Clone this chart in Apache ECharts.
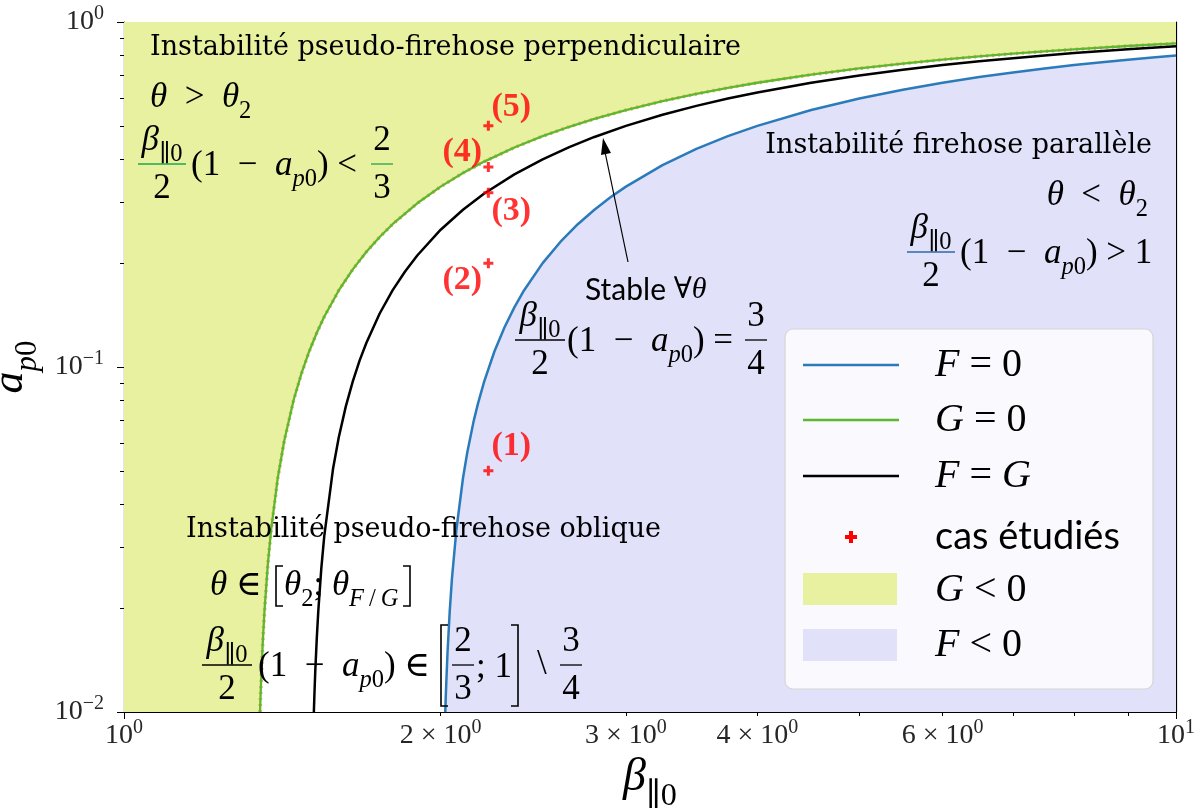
<!DOCTYPE html>
<html>
<head>
<meta charset="utf-8">
<script src="https://cdn.jsdelivr.net/npm/echarts@6/dist/echarts.min.js"></script>
<style>
html, body { margin: 0; padding: 0; background: #fff; }
#main { width: 1203px; height: 812px; }
</style>
</head>
<body>
<div id="main"></div>
<script>
// axes ranges and ticks
var xMin = 1, xMax = 10, yMin = 0.01, yMax = 1;
var xLabelValues = [1, 2, 3, 4, 6, 10];
var xMajorTicks = [1, 10];
var xMinorTicks = [2, 3, 4, 5, 6, 7, 8, 9];
var yMajorTicks = [0.01, 0.1, 1];
var yMinorTicks = [0.02, 0.03, 0.04, 0.05, 0.06, 0.07, 0.08, 0.09, 0.2, 0.3, 0.4, 0.5, 0.6, 0.7, 0.8, 0.9];

// F = 0 curve
var betaF = [2.0202, 2.022, 2.025, 2.03, 2.04, 2.05, 2.07, 2.1, 2.12, 2.15, 2.17, 2.2, 2.25, 2.3, 2.35, 2.4, 2.5, 2.6, 2.7, 2.8, 2.9, 3.0, 3.25, 3.5, 3.75, 4.0, 4.5, 5.0, 5.5, 6.0, 6.5, 7.0, 7.5, 8.0, 8.5, 9.0, 9.5, 10.0];
var aF = [0.0100, 0.0109, 0.0123, 0.0148, 0.0196, 0.0244, 0.0338, 0.0476, 0.0566, 0.0698, 0.0783, 0.0909, 0.1111, 0.1304, 0.1489, 0.1667, 0.2000, 0.2308, 0.2593, 0.2857, 0.3103, 0.3333, 0.3846, 0.4286, 0.4667, 0.5000, 0.5556, 0.6000, 0.6364, 0.6667, 0.6923, 0.7143, 0.7333, 0.7500, 0.7647, 0.7778, 0.7895, 0.8000];

// G = 0 curve
var betaG = [1.3468, 1.348, 1.35, 1.355, 1.36, 1.37, 1.38, 1.4, 1.42, 1.45, 1.475, 1.5, 1.525, 1.55, 1.6, 1.65, 1.7, 1.75, 1.8, 1.9, 2.0, 2.1, 2.2, 2.35, 2.5, 2.65, 2.8, 3.0, 3.25, 3.5, 3.75, 4.0, 4.5, 5.0, 5.5, 6.0, 6.5, 7.0, 7.5, 8.0, 9.0, 10.0];
var aG = [0.0100, 0.0109, 0.0123, 0.0160, 0.0196, 0.0268, 0.0338, 0.0476, 0.0610, 0.0805, 0.0960, 0.1111, 0.1257, 0.1398, 0.1667, 0.1919, 0.2157, 0.2381, 0.2593, 0.2982, 0.3333, 0.3651, 0.3939, 0.4326, 0.4667, 0.4969, 0.5238, 0.5556, 0.5897, 0.6190, 0.6444, 0.6667, 0.7037, 0.7333, 0.7576, 0.7778, 0.7949, 0.8095, 0.8222, 0.8333, 0.8519, 0.8667];

// F = G curve
var betaFG = [1.5152, 1.517, 1.52, 1.525, 1.53, 1.54, 1.55, 1.58, 1.6, 1.625, 1.65, 1.675, 1.7, 1.75, 1.8, 1.85, 1.9, 2.0, 2.1, 2.2, 2.35, 2.5, 2.65, 2.8, 3.0, 3.25, 3.5, 3.75, 4.0, 4.5, 5.0, 5.5, 6.0, 6.5, 7.0, 7.5, 8.0, 9.0, 10.0];
var aFG = [0.0100, 0.0112, 0.0132, 0.0164, 0.0196, 0.0260, 0.0323, 0.0506, 0.0625, 0.0769, 0.0909, 0.1045, 0.1176, 0.1429, 0.1667, 0.1892, 0.2105, 0.2500, 0.2857, 0.3182, 0.3617, 0.4000, 0.4340, 0.4643, 0.5000, 0.5385, 0.5714, 0.6000, 0.6250, 0.6667, 0.7000, 0.7273, 0.7500, 0.7692, 0.7857, 0.8000, 0.8125, 0.8333, 0.8500];

// cas etudies
var caseNames = ['(1)', '(2)', '(3)', '(4)', '(5)'];
var caseBeta = [2.22, 2.22, 2.22, 2.22, 2.22];
var caseA = [0.05, 0.2, 0.32, 0.38, 0.5];

var TXT = '"DejaVu Serif", serif';
var SERIF = '"Liberation Serif", "DejaVu Serif", serif';
var SANS = 'Lato, "DejaVu Sans", sans-serif';
var GREEN_TXT = '#1fa64a', BLUE_TXT = '#2f68a6';
var C_F = '#2b7bba', C_G = '#5cb82e', C_FG = '#000000';
var FILL_G = '#e8f1a0', FILL_F = '#e1e1fa';
var PLUS = 'path://M3.5,0H6.5V3.5H10V6.5H6.5V10H3.5V6.5H0V3.5H3.5Z';
var M = 35; // math font size

function zip(xs, ys) {
  return xs.map(function (x, i) { return [x, ys[i]]; });
}

function rich(size, color) {
  var b = { fontFamily: SERIF, color: color };
  return {
    r: Object.assign({ fontSize: size, lineHeight: size * 1.5 }, b),
    i: Object.assign({ fontSize: size, fontStyle: 'italic', lineHeight: size * 1.5 }, b),
    s: Object.assign({ fontSize: size * 0.7, verticalAlign: 'bottom', lineHeight: size * 0.9 }, b),
    si: Object.assign({ fontSize: size * 0.7, fontStyle: 'italic', verticalAlign: 'bottom', lineHeight: size * 0.9 }, b),
    p: Object.assign({ fontSize: size * 0.7, verticalAlign: 'top', lineHeight: size * 0.9 }, b),
    tx: { fontFamily: TXT, fontSize: size, color: color, lineHeight: size * 1.5 },
    ss: { fontFamily: SANS, fontSize: size, color: color, lineHeight: size * 1.5 }
  };
}

function T(x, y, text, size, color, align) {
  return { type: 'text', z: 50, silent: true,
    style: { x: x, y: y, text: text, rich: rich(size, color), align: align || 'left', verticalAlign: 'middle' } };
}
function L(x1, y1, x2, y2, color, w) {
  return { type: 'line', z: 50, silent: true, shape: { x1: x1, y1: y1, x2: x2, y2: y2 },
    style: { stroke: color, lineWidth: w || 1.3 } };
}
function frac(cx, ly, num, den, color, hw) {
  return [
    T(cx, ly - M * 0.66, num, M, color, 'center'),
    L(cx - hw, ly, cx + hw, ly, color, 1.3),
    T(cx, ly + M * 0.72, den, M, color, 'center')
  ];
}
function bracket(x, y1, y2, dir, color) {
  return { type: 'polyline', z: 50, silent: true,
    shape: { points: [[x + dir * 7, y1], [x, y1], [x, y2], [x + dir * 7, y2]] },
    style: { stroke: color, lineWidth: 1.6, fill: null } };
}
function box(x, y, w, h, color) {
  return { type: 'rect', z: 61, silent: true, shape: { x: x, y: y, width: w, height: h }, style: { fill: color } };
}

var BETA = '{i|β}{s|∥0}';
var ONE_MINUS_A = '{r|(1  −  }{i|a}{si|p}{s|0}{r|)}';

var gfx = [];
// green region text
gfx.push(T(150, 48, '{tx|Instabilité pseudo-firehose perpendiculaire}', 27, GREEN_TXT));
gfx.push(T(150, 98, '{i|θ}{r|  >  }{i|θ}{s|2}', M, GREEN_TXT));
gfx = gfx.concat(frac(162, 164, BETA, '{r|2}', GREEN_TXT, 24));
gfx.push(T(191, 166, ONE_MINUS_A + '{r| <}', M, GREEN_TXT));
gfx = gfx.concat(frac(382, 164, '{r|2}', '{r|3}', GREEN_TXT, 11));
// blue region text
gfx.push(T(1152, 146, '{tx|Instabilité firehose parallèle}', 27, BLUE_TXT, 'right'));
gfx.push(T(1148, 196, '{i|θ}{r|  <  }{i|θ}{s|2}', M, BLUE_TXT, 'right'));
gfx = gfx.concat(frac(931, 252, BETA, '{r|2}', BLUE_TXT, 24));
gfx.push(T(960, 254, ONE_MINUS_A + '{r| > 1}', M, BLUE_TXT));
// stable region
gfx.push(T(585, 290, '{ss|Stable }{r|∀}{i|θ}', 30, '#000'));
gfx = gfx.concat(frac(540, 340, BETA, '{r|2}', '#000', 25));
gfx.push(T(567, 342, ONE_MINUS_A + '{r| =}', M, '#000'));
gfx = gfx.concat(frac(756, 340, '{r|3}', '{r|4}', '#000', 11));
gfx.push(L(628, 262, 605, 152, '#000', 1.2));
gfx.push({ type: 'polygon', z: 50, silent: true,
  shape: { points: [[603, 138], [611, 153], [601, 155]] }, style: { fill: '#000' } });
// oblique
gfx.push(T(186, 530, '{tx|Instabilité pseudo-firehose oblique}', 27, '#000'));
gfx.push(T(210, 586, '{i|θ}{r| ∈ }', M, '#000'));
gfx.push(bracket(276, 566, 606, 1, '#000'));
gfx.push(T(284, 586, '{i|θ}{s|2}{r|; }{i|θ}{si|F\u2009}{s|/\u2009}{si|G}', M, '#000'));
gfx.push(bracket(410, 566, 606, -1, '#000'));
gfx = gfx.concat(frac(227, 665, BETA, '{r|2}', '#000', 25));
gfx.push(T(258, 667, ONE_MINUS_A + '{r| ∈}', M, '#000'));
gfx.push(bracket(441, 625, 706, 1, '#000'));
gfx = gfx.concat(frac(463, 665, '{r|2}', '{r|3}', '#000', 11));
gfx.push(T(476, 668, '{r|; 1}', M, '#000'));
gfx.push(bracket(518, 625, 706, -1, '#000'));
gfx.push(T(537, 665, '{r|\\}', M, '#000'));
gfx = gfx.concat(frac(571, 665, '{r|3}', '{r|4}', '#000', 11));

// legend box
gfx.push({ type: 'rect', z: 60, silent: true, shape: { x: 785, y: 329, width: 368, height: 360, r: 8 },
  style: { fill: 'rgba(255,255,255,0.8)', stroke: '#d6d6d6', lineWidth: 1.2 } });
var legLines = [[365, C_F, '{i|F}{r| = 0}'], [420, C_G, '{i|G}{r| = 0}'], [476, C_FG, '{i|F}{r| = }{i|G}']];
legLines.forEach(function (l) {
  gfx.push({ type: 'line', z: 61, silent: true, shape: { x1: 803, y1: l[0], x2: 899, y2: l[0] },
    style: { stroke: l[1], lineWidth: 2.5 } });
  gfx.push(Object.assign(T(935, l[0], l[2], 40, '#000'), { z: 61 }));
});
gfx.push(box(845, 535, 12, 4, '#ff0000'));
gfx.push(box(849, 531, 4, 12, '#ff0000'));
gfx.push(Object.assign(T(935, 537, '{ss|cas étudiés}', 38, '#000'), { z: 61 }));
gfx.push(box(803, 573, 94, 32, FILL_G));
gfx.push(Object.assign(T(935, 590, '{i|G}{r| < 0}', 40, '#000'), { z: 61 }));
gfx.push(box(803, 629, 94, 32, FILL_F));
gfx.push(Object.assign(T(935, 645, '{i|F}{r| < 0}', 40, '#000'), { z: 61 }));

var tickRich = {
  t: { fontFamily: SERIF, fontSize: 28, color: '#262626', lineHeight: 36 },
  p: { fontFamily: SERIF, fontSize: 20, color: '#262626', verticalAlign: 'top', lineHeight: 26 }
};
function expo(v) { return Math.floor(Math.log10(v) + 1e-9); }
function xFmt(v) {
  var e = expo(v), m = Math.round(v / Math.pow(10, e));
  return (m === 1 ? '' : '{t|' + m + ' × }') + '{t|10}{p|' + e + '}';
}
function yFmt(v) {
  var e = expo(v);
  return '{t|10}{p|' + (e < 0 ? '−' + (-e) : e) + '}';
}

var axisLine = { show: true, lineStyle: { color: '#000', width: 1.2 } };
var noLine = { show: false };
var curve = { type: 'line', symbol: 'none', silent: true };

var fillG = [[xMin, yMin]].concat(zip(betaG, aG));
var caseData = caseBeta.map(function (b, i) { return [b, caseA[i]]; });
var labelOffsets = [[23, -25], [-26, 17], [23, 18], [-26, -15], [23, -19]];

var chart = echarts.init(document.getElementById('main'));
chart.setOption({
  backgroundColor: '#fff',
  animation: false,
  grid: { left: 124, right: 27, top: 22, bottom: 100, containLabel: false, outerBoundsMode: 'none' },
  xAxis: [
    { type: 'log', logBase: 10, min: xMin, max: xMax, axisLine: axisLine, splitLine: noLine,
      axisTick: { show: true, length: 7, customValues: xMajorTicks, lineStyle: { color: '#000' } },
      axisLabel: { customValues: xLabelValues, formatter: xFmt, rich: tickRich, margin: 6 },
      name: BETA, nameLocation: 'middle', nameGap: 26,
      nameTextStyle: { rich: rich(46, '#000') } },
    { type: 'log', logBase: 10, min: xMin, max: xMax, position: 'bottom', axisLine: noLine, splitLine: noLine,
      axisTick: { show: true, length: 4, customValues: xMinorTicks, lineStyle: { color: '#000' } },
      axisLabel: { show: false } },
    { type: 'log', logBase: 10, min: xMin, max: xMax, position: 'top', axisLine: axisLine, splitLine: noLine,
      axisTick: noLine, axisLabel: noLine }
  ],
  yAxis: [
    { type: 'log', logBase: 10, min: yMin, max: yMax, axisLine: axisLine, splitLine: noLine,
      axisTick: { show: true, length: 7, customValues: yMajorTicks, lineStyle: { color: '#000' } },
      axisLabel: { customValues: yMajorTicks, formatter: yFmt, rich: tickRich, margin: 20 },
      name: '{i|a}{si|p}{s|0}', nameLocation: 'middle', nameGap: 70, nameRotate: 90,
      nameTextStyle: { rich: rich(44, '#000') } },
    { type: 'log', logBase: 10, min: yMin, max: yMax, position: 'left', axisLine: noLine, splitLine: noLine,
      axisTick: { show: true, length: 4, customValues: yMinorTicks, lineStyle: { color: '#000' } },
      axisLabel: { show: false } },
    { type: 'log', logBase: 10, min: yMin, max: yMax, position: 'right', axisLine: axisLine, splitLine: noLine,
      axisTick: noLine, axisLabel: noLine }
  ],
  graphic: gfx,
  series: [
    Object.assign({}, curve, { name: 'G < 0', data: fillG, z: 1,
      lineStyle: { opacity: 0 }, areaStyle: { color: FILL_G, opacity: 1, origin: 'end' } }),
    Object.assign({}, curve, { name: 'F < 0', data: zip(betaF, aF), z: 1,
      lineStyle: { opacity: 0 }, areaStyle: { color: FILL_F, opacity: 1, origin: 'start' } }),
    Object.assign({}, curve, { name: 'G edge', data: zip(betaG, aG), z: 3,
      lineStyle: { color: '#f2a65c', width: 3.6, type: [2, 4] } }),
    Object.assign({}, curve, { name: 'G = 0', data: zip(betaG, aG), z: 4,
      lineStyle: { color: C_G, width: 2.3 } }),
    Object.assign({}, curve, { name: 'F = 0', data: zip(betaF, aF), z: 4,
      lineStyle: { color: C_F, width: 2.5 } }),
    Object.assign({}, curve, { name: 'F = G', data: zip(betaFG, aFG), z: 4,
      lineStyle: { color: C_FG, width: 2.5 } }),
    { name: 'cas étudiés', type: 'scatter', symbol: PLUS, symbolSize: 10, z: 6, silent: true,
      itemStyle: { color: '#ff0000' },
      data: caseData.map(function (d, i) {
        return { value: d, label: { offset: labelOffsets[i] } };
      }),
      label: { show: true, position: 'inside', color: '#ff0000', textBorderWidth: 0,
        fontFamily: SERIF, fontWeight: 'bold', fontSize: 34,
        formatter: function (p) { return caseNames[p.dataIndex]; } } }
  ]
});
</script>
</body>
</html>
